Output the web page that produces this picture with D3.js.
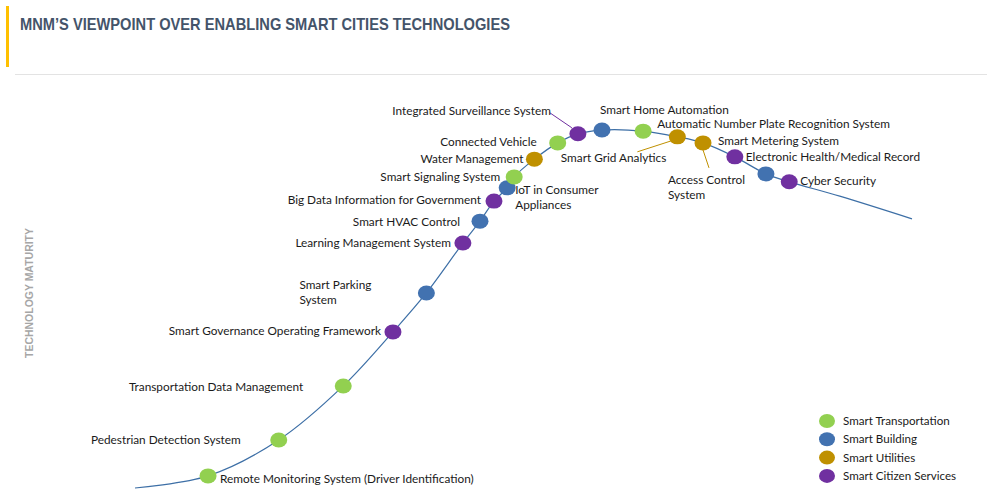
<!DOCTYPE html>
<html>
<head>
<meta charset="utf-8">
<script src="https://cdn.jsdelivr.net/npm/d3@7"></script>
<style>
  body { margin: 0; background: #fff; }
  svg text { font-family: Lato, "Noto Sans", sans-serif; }
</style>
</head>
<body>
<svg id="chart" width="995" height="494"></svg>
<script>
// hype-cycle curve, x = time (0-100), y = maturity (0-100)
const curveX = [0, 9.4, 18.5, 26.8, 33.2, 37.5, 42.2, 44.4, 46.2, 47.9, 48.8, 51.4, 54.4, 57.0, 60.1, 65.4, 69.8, 73.1, 77.2, 81.2, 84.2, 90.7, 100];
const curveY = [0, 3.2, 12.7, 27.0, 41.3, 51.6, 64.8, 70.6, 75.9, 79.4, 82.3, 87.0, 91.3, 93.7, 94.7, 94.4, 92.9, 91.3, 87.6, 83.1, 81.0, 77.2, 71.2];

// technologies sitting on the curve
const techGroup = ["T", "T", "T", "C", "B", "C", "B", "C", "B", "T", "U", "T", "C", "B", "T", "U", "U", "C", "B", "C"];
const techX = [9.4, 18.5, 26.8, 33.2, 37.5, 42.2, 44.4, 46.2, 47.9, 48.8, 51.4, 54.4, 57.0, 60.1, 65.4, 69.8, 73.1, 77.2, 81.2, 84.2];
const techY = [3.2, 12.7, 27.0, 41.3, 51.6, 64.8, 70.6, 75.9, 79.4, 82.3, 87.0, 91.3, 93.7, 94.7, 94.4, 92.9, 91.3, 87.6, 83.1, 81.0];

const labelText = [
  ["Remote Monitoring System (Driver Identification)"],
  ["Pedestrian Detection System"],
  ["Transportation Data Management"],
  ["Smart Governance Operating Framework"],
  ["Smart Parking", "System"],
  ["Learning Management System"],
  ["Smart HVAC Control"],
  ["Big Data Information for Government"],
  ["IoT in Consumer", "Appliances"],
  ["Smart Signaling System"],
  ["Water Management"],
  ["Connected Vehicle"],
  ["Integrated Surveillance System"],
  ["Smart Home Automation"],
  ["Automatic Number Plate Recognition System"],
  ["Smart Grid Analytics"],
  ["Smart Metering System"],
  ["Access Control", "System"],
  ["Electronic Health/Medical Record"],
  ["Cyber Security"]
];
// which dot each label belongs to
const labelDot = [0, 1, 2, 3, 4, 5, 6, 7, 8, 9, 10, 11, 12, 13, 14, 15, 16, 16, 17, 19];

const groups = ["T", "B", "U", "C"];
const groupNames = ["Smart Transportation", "Smart Building", "Smart Utilities", "Smart Citizen Services"];
const groupColors = ["#92d050", "#4272b0", "#bf9000", "#7030a0"];

// label placement relative to its dot: [dx, dy, anchor, leader]
const labelPlace = [
  [12, 3, "start"], [-38, 0, "end"], [-40, 1, "end"], [-12, -1, "end"],
  [-127, -8, "start"], [-12, 0, "end"], [-20, 1, "end"], [-13, -1, "end"],
  [8, 2, "start"], [-14, 0, "end"], [-11, 0, "end"], [-21, -1, "end"],
  [-27, -23, "end", [-28, -21, -6, -6]], [-2, -20, "start"], [14, -7, "start"],
  [-11, 21, "end", [-40, 15, -6, 4]], [15, -2, "start"],
  [-35, 37, "start", [0, 7, 6, 25]], [11, 0, "start"], [11, -1, "start"]
];

const svg = d3.select("#chart");
const color = d3.scaleOrdinal(groups, groupColors);
const x = d3.scaleLinear([0, 100], [135, 912]);
const y = d3.scaleLinear([0, 100], [488, 110]);

// header
svg.append("rect").attr("x", 6).attr("y", 6).attr("width", 3).attr("height", 61).attr("fill", "#ffc000");
svg.append("text")
    .attr("x", 20).attr("y", 30)
    .attr("textLength", 490).attr("lengthAdjust", "spacingAndGlyphs")
    .style("font-family", "'Liberation Sans', Arial, sans-serif")
    .style("font-weight", "bold").style("font-size", "17px")
    .attr("fill", "#44546a")
    .text("MNM\u2019S VIEWPOINT OVER ENABLING SMART CITIES TECHNOLOGIES");
svg.append("line").attr("x1", 15).attr("x2", 987).attr("y1", 74.5).attr("y2", 74.5)
    .attr("stroke", "#e3e3e3");

svg.append("text")
    .attr("transform", "translate(33,293) rotate(-90)")
    .attr("text-anchor", "middle")
    .attr("textLength", 130).attr("lengthAdjust", "spacingAndGlyphs")
    .style("font-family", "'Liberation Sans', Arial, sans-serif")
    .style("font-weight", "bold").style("font-size", "11px")
    .attr("fill", "#a6a6a6")
    .text("TECHNOLOGY MATURITY");

// curve
const line = d3.line()
    .x(i => x(curveX[i]))
    .y(i => y(curveY[i]))
    .curve(d3.curveCatmullRom);

svg.append("path")
    .attr("d", line(d3.range(curveX.length)))
    .attr("fill", "none")
    .attr("stroke", "#3d6fa6")
    .attr("stroke-width", 1.2);

// leader lines
labelPlace.forEach((p, i) => {
  if (!p[3]) return;
  const k = labelDot[i];
  const cx = x(techX[k]), cy = y(techY[k]);
  svg.append("line")
      .attr("x1", cx + p[3][0]).attr("y1", cy + p[3][1])
      .attr("x2", cx + p[3][2]).attr("y2", cy + p[3][3])
      .attr("stroke", color(techGroup[k]))
      .attr("stroke-width", 1);
});

// dots
svg.append("g")
  .selectAll("ellipse")
  .data(d3.range(techX.length))
  .join("ellipse")
    .attr("cx", i => x(techX[i]))
    .attr("cy", i => y(techY[i]))
    .attr("rx", 8.5)
    .attr("ry", 7.5)
    .attr("fill", i => color(techGroup[i]));

// labels
const labels = svg.append("g")
    .style("font-size", "11.8px")
    .attr("fill", "#1a1a1a");

labelText.forEach((lines, i) => {
  const k = labelDot[i];
  const p = labelPlace[i];
  const t = labels.append("text")
      .attr("x", x(techX[k]) + p[0])
      .attr("y", y(techY[k]) + p[1])
      .attr("text-anchor", p[2]);
  lines.forEach((s, j) => {
    t.append("tspan")
        .attr("x", x(techX[k]) + p[0])
        .attr("dy", j === 0 ? "0.35em" : "15")
        .text(s);
  });
});

// legend
const legend = svg.append("g")
  .selectAll("g")
  .data(groups)
  .join("g")
    .attr("transform", (d, i) => `translate(827,${421 + i * 18.3})`);

legend.append("ellipse")
    .attr("rx", 8).attr("ry", 7)
    .attr("fill", d => color(d));

legend.append("text")
    .attr("x", 16)
    .attr("dy", "0.35em")
    .style("font-size", "11.6px")
    .attr("fill", "#1a1a1a")
    .text((d, i) => groupNames[i]);
</script>
</body>
</html>
